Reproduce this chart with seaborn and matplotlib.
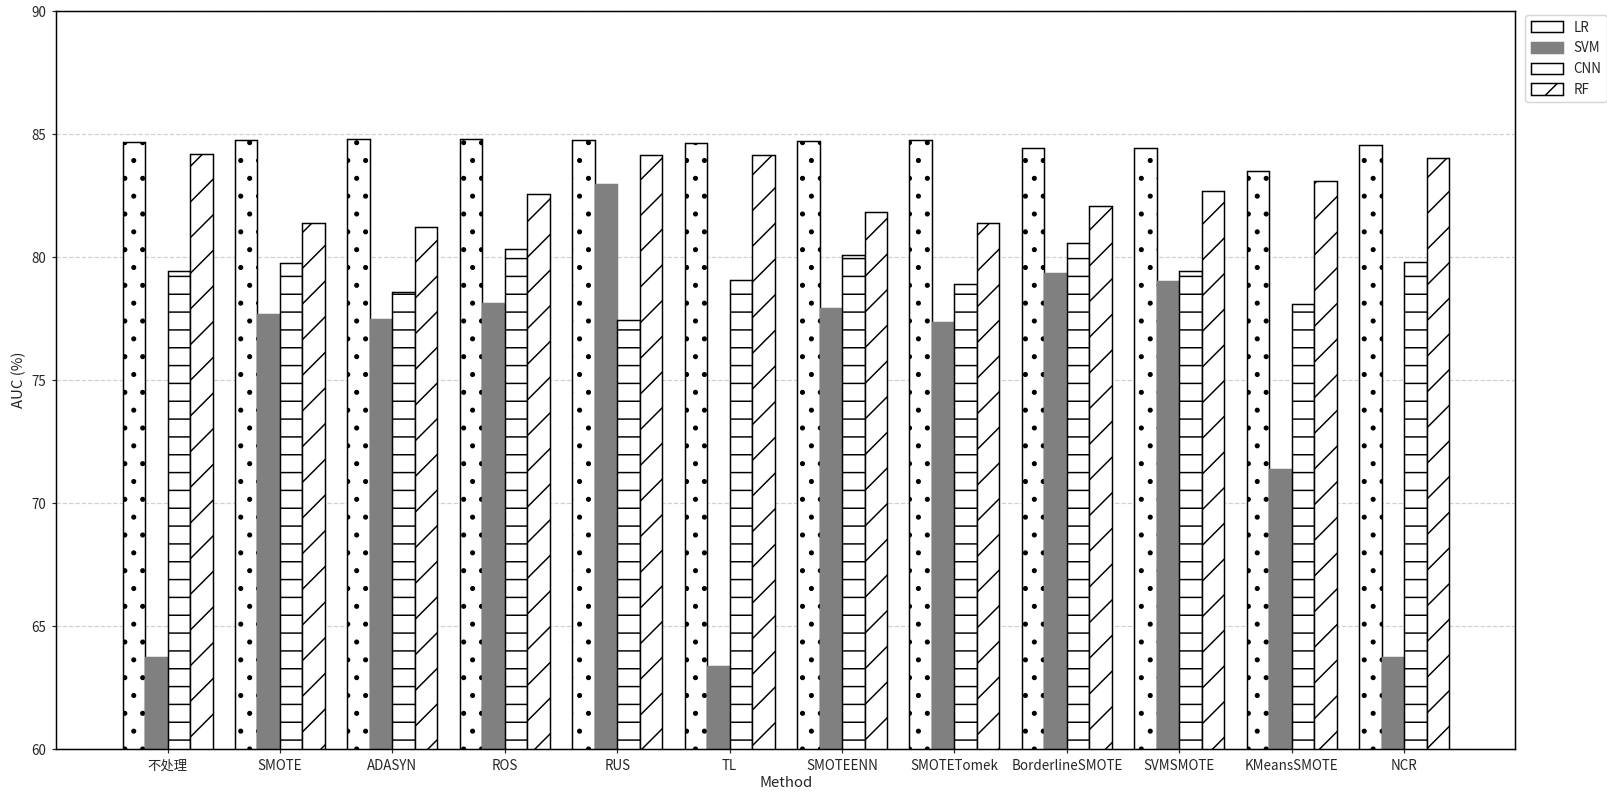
import pandas as pd
import matplotlib
matplotlib.use('Agg')
import matplotlib.pyplot as plt
import matplotlib.patches as mpatches
import seaborn as sns

methods = ['不处理', 'SMOTE', 'ADASYN', 'ROS', 'RUS', 'TL', 'SMOTEENN', 'SMOTETomek',
           'BorderlineSMOTE', 'SVMSMOTE', 'KMeansSMOTE', 'NCR']
models = ['LR', 'SVM', 'CNN', 'RF']
lr = [84.67, 84.77, 84.81, 84.81, 84.77, 84.65, 84.73, 84.77, 84.43, 84.43, 83.52, 84.56]
svm = [63.74, 77.70, 77.48, 78.14, 82.96, 63.40, 77.92, 77.36, 79.35, 79.05, 71.38, 63.74]
cnn = [79.43, 79.77, 78.60, 80.34, 77.46, 79.09, 80.08, 78.91, 80.56, 79.43, 78.08, 79.82]
rf = [84.21, 81.37, 81.23, 82.55, 84.17, 84.17, 81.82, 81.37, 82.08, 82.69, 83.08, 84.02]

hatches = {'LR': '.', 'SVM': '', 'CNN': '-', 'RF': '/'}
fills = {'LR': 'white', 'SVM': '#808080', 'CNN': 'white', 'RF': 'white'}
edges = {'LR': 'black', 'SVM': '#808080', 'CNN': 'black', 'RF': 'black'}

rows = []
for name, vals in zip(models, [lr, svm, cnn, rf]):
    for m, v in zip(methods, vals):
        rows.append({'Method': m, 'Model': name, 'AUC': v})
df = pd.DataFrame(rows)

sns.set_style('white')
plt.rcParams['font.family'] = ['Noto Sans CJK SC', 'DejaVu Sans']
plt.rcParams['hatch.linewidth'] = 1.0

dpi = 107
fig, ax = plt.subplots(figsize=(1607 / dpi, 797 / dpi), dpi=dpi)
fig.subplots_adjust(left=0.035, right=0.943, top=0.986, bottom=0.06)

sns.barplot(data=df, x='Method', y='AUC', hue='Model', order=methods, hue_order=models,
            palette=fills, width=0.8, gap=0, legend=False, ax=ax)

# hatch and edge per model
for cont, name in zip(ax.containers, models):
    for bar in cont:
        bar.set_hatch(hatches[name])
        bar.set_edgecolor(edges[name])
        bar.set_facecolor(fills[name])
        bar.set_linewidth(1.0)

ax.set_xlim(-0.99, len(methods) - 0.01)
ax.set_ylim(60, 90)
ax.set_yticks(range(60, 91, 5))
ax.yaxis.grid(True, linestyle='--', color='#d0d0d0', linewidth=0.8)
ax.set_axisbelow(True)
ax.set_xlabel('Method', fontsize=10, labelpad=2)
ax.set_ylabel('AUC (%)', fontsize=10)
ax.tick_params(axis='both', labelsize=9, length=3, left=True, bottom=True)
for s in ax.spines.values():
    s.set_color('black')
    s.set_linewidth(1.0)

handles = [mpatches.Patch(facecolor=fills[n], edgecolor=edges[n], hatch=hatches[n], label=n)
           for n in models]
ax.legend(handles=handles, loc='upper left', bbox_to_anchor=(1.004, 1.0), fontsize=9,
          frameon=True, handlelength=2.4, handleheight=0.9, borderaxespad=0.3)

plt.savefig('out.png', dpi=dpi)
plt.close()
